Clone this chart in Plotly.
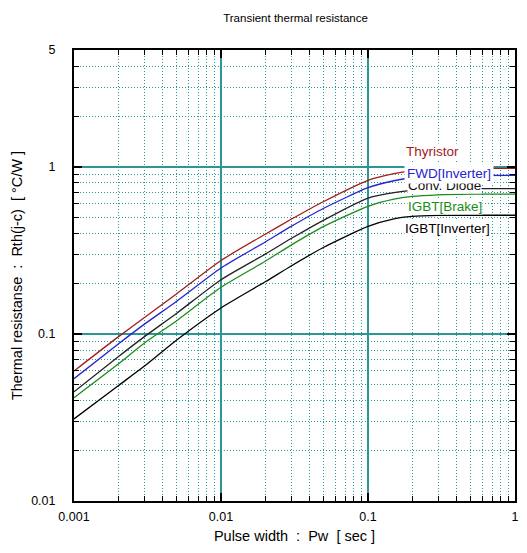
import plotly.graph_objects as go

# ---- data ----
pulse_width = [0.001, 0.002, 0.003, 0.005, 0.01, 0.02, 0.03, 0.05, 0.1, 0.15, 0.2, 0.3, 0.5, 1.0]

thyristor     = [0.060, 0.096, 0.125, 0.174, 0.275, 0.395, 0.485, 0.620, 0.830, 0.910, 0.945, 0.970, 0.978, 0.980]
fwd_inverter  = [0.054, 0.087, 0.114, 0.157, 0.248, 0.355, 0.440, 0.565, 0.750, 0.825, 0.860, 0.880, 0.887, 0.888]
conv_diode    = [0.045, 0.073, 0.096, 0.133, 0.211, 0.300, 0.372, 0.480, 0.650, 0.700, 0.722, 0.736, 0.740, 0.741]
igbt_brake    = [0.0415, 0.066, 0.088, 0.120, 0.190, 0.272, 0.340, 0.440, 0.580, 0.640, 0.665, 0.680, 0.686, 0.687]
igbt_inverter = [0.031, 0.049, 0.064, 0.092, 0.143, 0.205, 0.255, 0.330, 0.440, 0.488, 0.505, 0.512, 0.513, 0.513]

series_names = ["Thyristor", "FWD[Inverter]", "Conv. Diode", "IGBT[Brake]", "IGBT[Inverter]"]
series_values = [thyristor, fwd_inverter, conv_diode, igbt_brake, igbt_inverter]
series_colors = ["#a01c1c", "#2424d0", "#222222", "#1a8c1a", "#000000"]

x_tick_vals = [0.001, 0.01, 0.1, 1]
x_tick_text = ["0.001", "0.01", "0.1", "1"]
y_tick_vals = [0.01, 0.1, 1, 5]
y_tick_text = ["0.01", "0.1", "1", "5"]

x_minor = [m * d for d in (0.001, 0.01, 0.1) for m in range(2, 10)]
y_minor = [m * d for d in (0.01, 0.1) for m in range(2, 10)] + [2, 3, 4]

FONT = "Liberation Sans, Arial, sans-serif"
GRID = "#2a9696"

fig = go.Figure()
for name, vals, col in zip(series_names, series_values, series_colors):
    fig.add_trace(go.Scatter(
        x=pulse_width, y=vals, mode="lines", name=name,
        line=dict(color=col, width=1.3, shape="spline", smoothing=0.6),
        showlegend=False, hoverinfo="x+y+name",
    ))

# labels (order matters: later ones are drawn on top)
label_specs = [
    ("Thyristor", 0.814, 0.775, "#a01c1c", 0),
    ("Conv. Diode", 0.841, 0.699, "#111111", 0),
    ("FWD[Inverter]", 0.850, 0.727, "#2424d0", 2),
    ("IGBT[Brake]", 0.841, 0.652, "#1a8c1a", 0),
    ("IGBT[Inverter]", 0.848, 0.605, "#000000", 0),
]
for text, px, py, col, pad in label_specs:
    fig.add_annotation(
        text=text, x=px, y=py, xref="paper", yref="paper",
        xanchor="center", yanchor="middle", showarrow=False,
        font=dict(family=FONT, size=13.5, color=col),
        bgcolor="white", borderpad=pad,
    )

axis_common = dict(
    type="log",
    showline=True, linecolor="black", linewidth=2, mirror="ticks",
    ticks="inside", ticklen=8, tickwidth=1.5, tickcolor="black",
    showgrid=True, gridcolor=GRID, gridwidth=1.5,
    zeroline=False,
    tickfont=dict(family=FONT, size=12.5, color="black"),
)
minor_common = dict(ticks="inside", ticklen=5, tickwidth=1.2, tickcolor="black",
                    showgrid=True, gridcolor=GRID, griddash="1px,2px", gridwidth=1)

fig.update_xaxes(
    **axis_common,
    range=[-3, 0],
    tickvals=x_tick_vals, ticktext=x_tick_text,
    ticklabelstandoff=3,
    minor=dict(tickvals=x_minor, **minor_common),
    title=dict(text="Pulse width  :  Pw  [ sec ]", standoff=8,
               font=dict(family=FONT, size=14.5, color="black")),
)
fig.update_yaxes(
    **axis_common,
    range=[-2, 0.69897],
    tickvals=y_tick_vals, ticktext=y_tick_text,
    ticklabelstandoff=14,
    minor=dict(tickvals=y_minor, **minor_common),
    title=dict(text="Thermal resistanse  :  Rth(j-c)  [ °C/W ]", standoff=5,
               font=dict(family=FONT, size=14.5, color="black")),
)

# the page body adds an 8px offset, so the figure is sized/placed to compensate
fig.update_layout(
    width=519, height=545,
    margin=dict(l=64, r=8, t=42, b=52),
    paper_bgcolor="white", plot_bgcolor="white",
    title=dict(text="Transient thermal resistance", x=0.554, xanchor="center",
               y=0.982, yanchor="middle",
               font=dict(family=FONT, size=11.5, color="black")),
    font=dict(family=FONT),
)

fig.write_html("out.html")
